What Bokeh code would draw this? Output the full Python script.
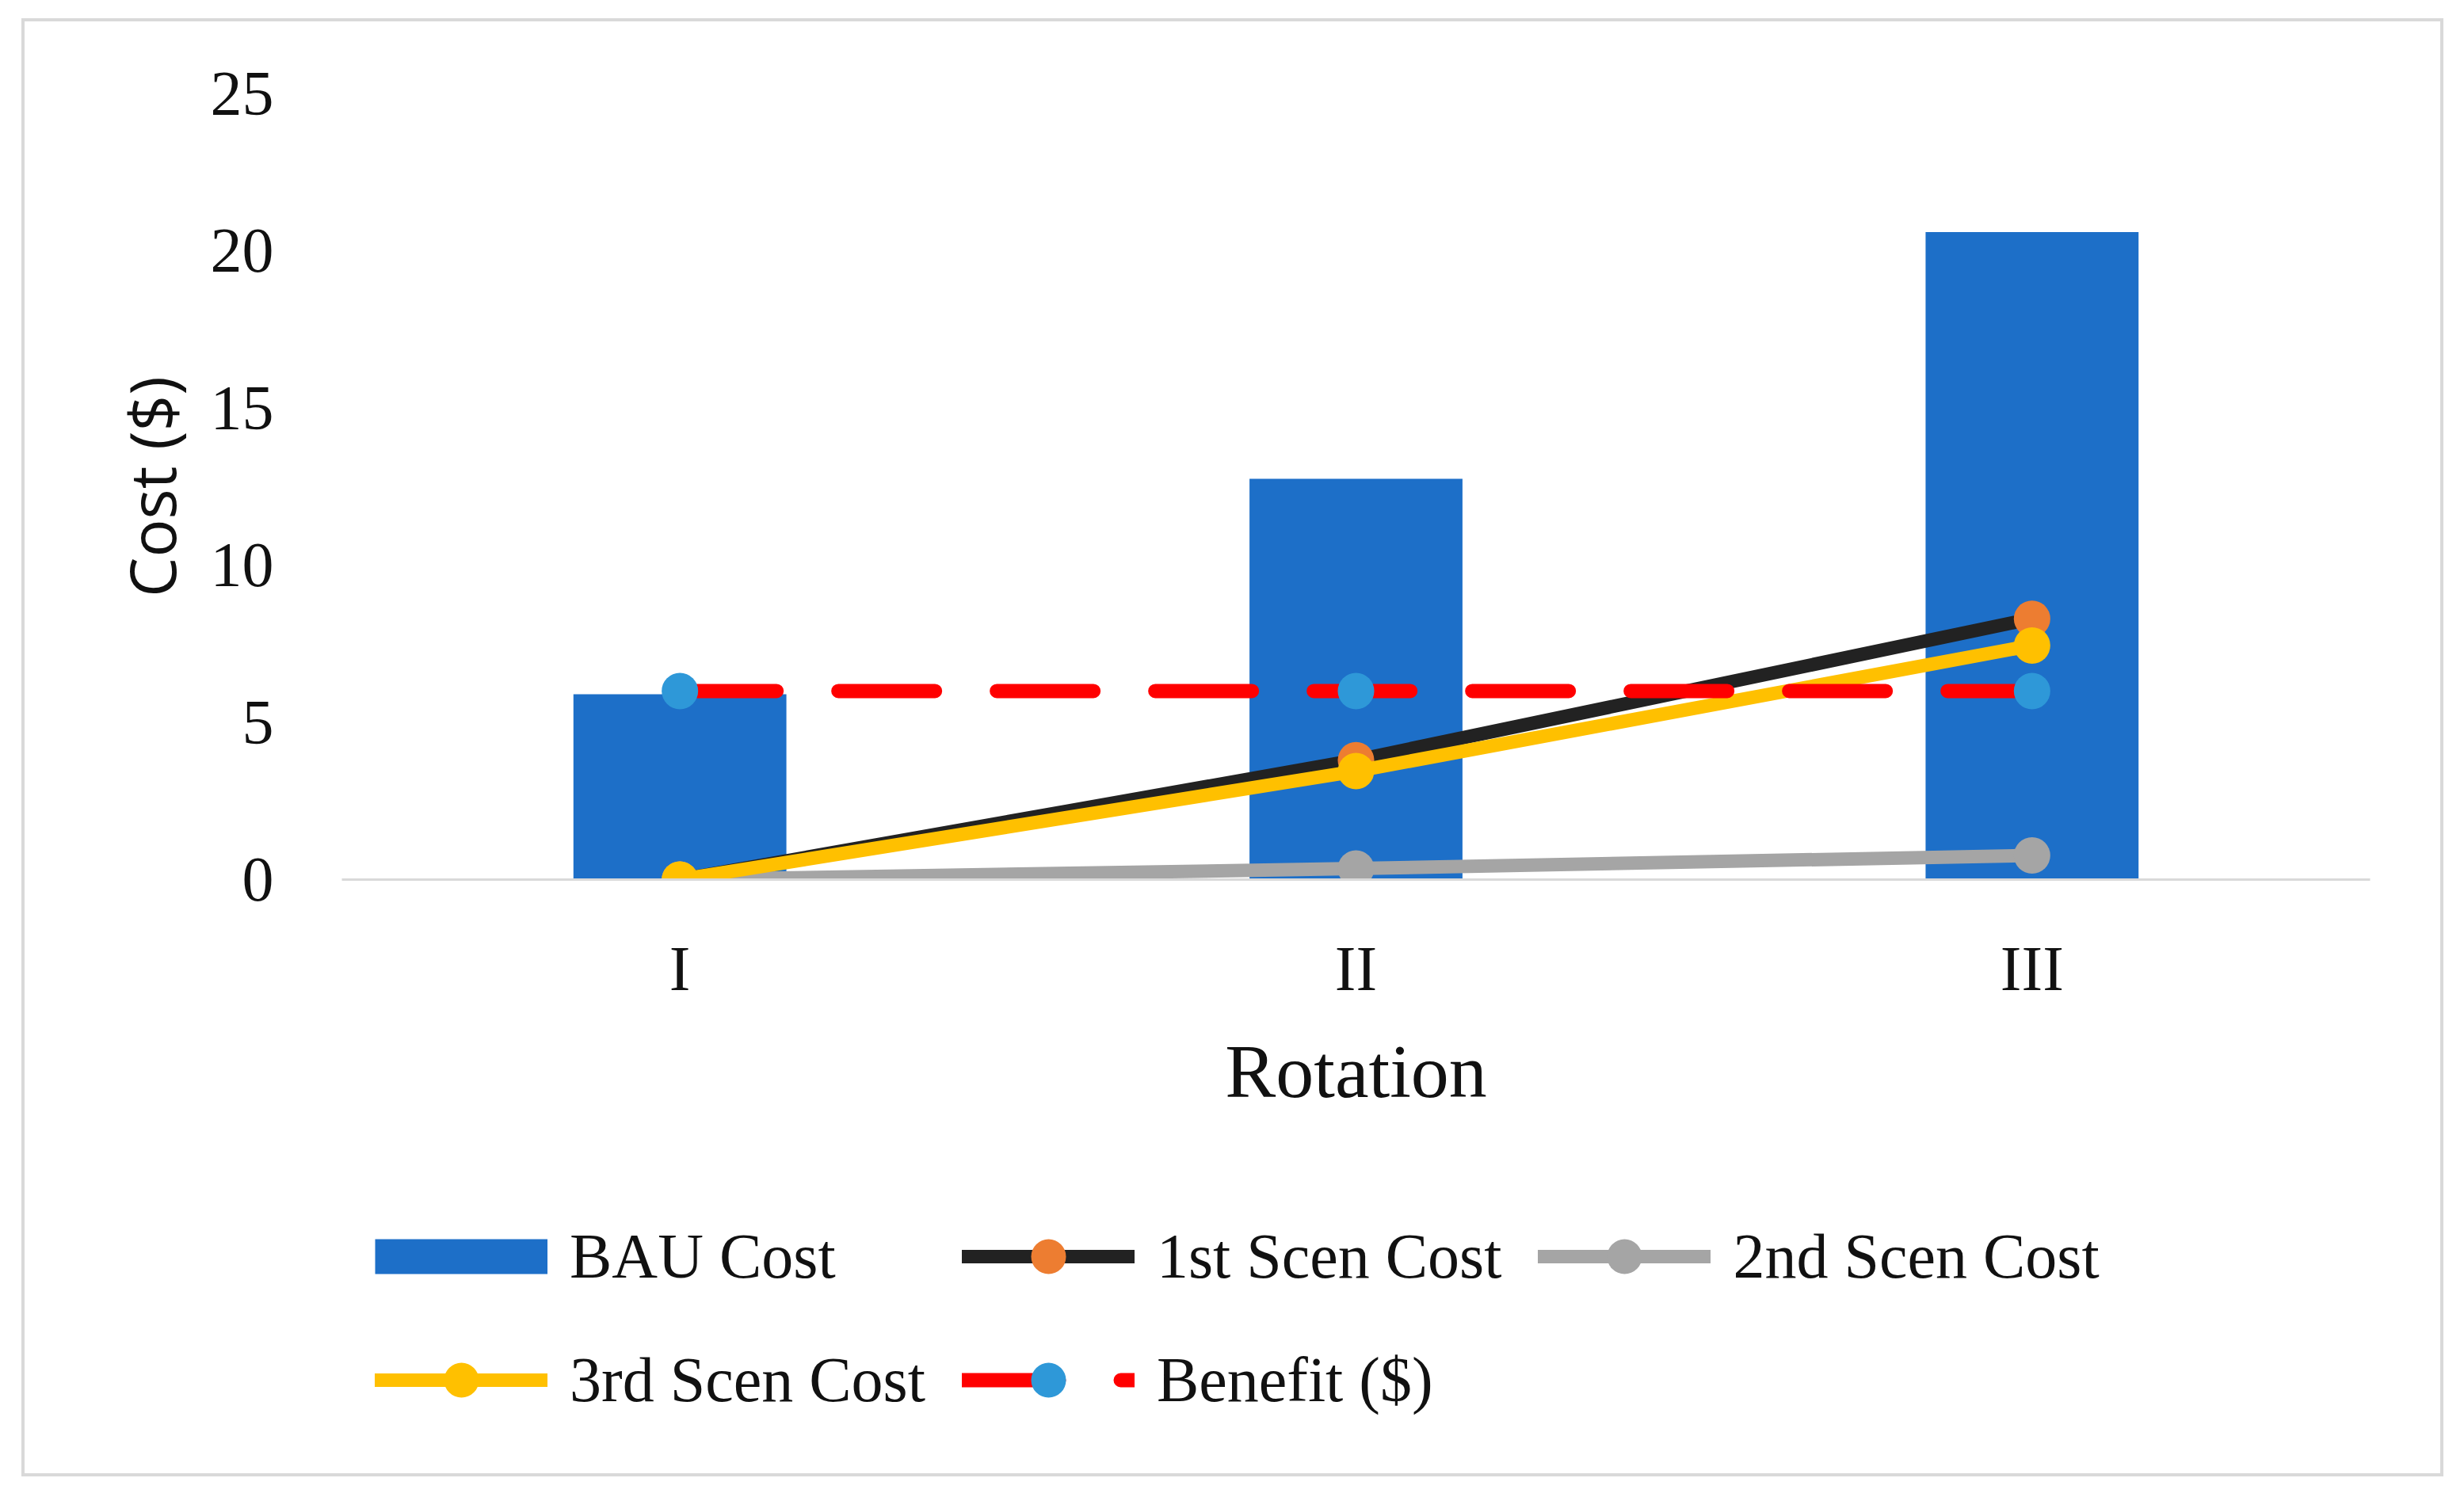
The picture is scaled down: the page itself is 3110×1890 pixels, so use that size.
from bokeh.plotting import figure
from bokeh.layouts import column
from bokeh.models import Legend, LegendItem, FixedTicker
from bokeh.embed import file_html
from bokeh.resources import INLINE

# data
rotations = ["I", "II", "III"]
bau_cost = [5.9, 12.75, 20.6]
scen1_cost = [0.0, 3.8, 8.3]
scen2_cost = [0.0, 0.35, 0.77]
scen3_cost = [0.0, 3.45, 7.45]
benefit = [6.0, 6.0, 6.0]
y_ticks = [0, 5, 10, 15, 20, 25]

series_names = ["BAU Cost", "1st Scen Cost", "2nd Scen Cost",
                "3rd Scen Cost", "Benefit ($)"]

serif = "Liberation Serif"
bar_color = "#1D6FC8"
line_colors = ["#222222", "#A5A5A5", "#FFC000", "#FF0000"]
marker_colors = ["#ED7D31", "#A5A5A5", "#FFC000", "#2E98D8"]
line_styles = ["solid", "solid", "solid", "122 78"]
line_widths = [17, 17, 17, 18]

nan = float("nan")


def add_series(fig, xs, ys_list):
    """Draw the four line series, return (line, marker) pairs."""
    pairs = []
    for ys, lc, mc, ls, lw in zip(ys_list, line_colors, marker_colors,
                                  line_styles, line_widths):
        ln = fig.line(xs, ys, line_color=lc, line_width=lw,
                      line_dash=ls, line_cap="round")
        mk = fig.scatter(xs, ys, size=46, fill_color=mc, line_color=None)
        pairs.append((ln, mk))
    return pairs


# main chart
p = figure(x_range=rotations,
           y_range=(0, 25),
           width=3049,
           height=1412,
           output_backend="svg",
           toolbar_location=None,
           min_border_left=400,
           min_border_right=89,
           min_border_top=91,
           min_border_bottom=329)
p.outline_line_color = None
p.xgrid.grid_line_color = None
p.ygrid.grid_line_color = None
p.x_range.range_padding = 0

p.vbar(x=rotations, top=bau_cost, width=0.315,
       fill_color=bar_color, line_color=None)
add_series(p, rotations, [scen1_cost, scen2_cost, scen3_cost, benefit])

p.xaxis.axis_line_color = "#D9D9D9"
p.xaxis.axis_line_width = 3
p.xaxis.major_tick_line_color = None
p.xaxis.minor_tick_line_color = None
p.xaxis.major_label_text_font = serif
p.xaxis.major_label_text_font_size = "80px"
p.xaxis.major_label_text_color = "#111111"
p.xaxis.major_label_standoff = 62
p.xaxis.axis_label = "Rotation"
p.xaxis.axis_label_text_font = serif
p.xaxis.axis_label_text_font_size = "96px"
p.xaxis.axis_label_text_font_style = "normal"
p.xaxis.axis_label_text_color = "#111111"
p.xaxis.axis_label_standoff = 29

p.yaxis.ticker = FixedTicker(ticks=y_ticks)
p.yaxis.axis_line_color = None
p.yaxis.major_tick_line_color = None
p.yaxis.minor_tick_line_color = None
p.yaxis.major_label_text_font = serif
p.yaxis.major_label_text_font_size = "80px"
p.yaxis.major_label_text_color = "#111111"
p.yaxis.major_label_standoff = 80
p.yaxis.axis_label = "Cost ($)"
p.yaxis.axis_label_text_font = "Open Sans"
p.yaxis.axis_label_text_font_size = "80px"
p.yaxis.axis_label_text_font_style = "normal"
p.yaxis.axis_label_text_color = "#111111"
p.yaxis.axis_label_standoff = 18

# legend strip under the chart; its keys use a single NaN point so only
# the legend shows them
leg = figure(x_range=(0, 1), y_range=(0, 1),
             width=3049, height=421,
             output_backend="svg",
             toolbar_location=None,
             min_border=0)
leg.axis.visible = False
leg.grid.visible = False
leg.outline_line_color = None

bar_key = leg.line(x=[nan], y=[nan], line_color=bar_color, line_width=44,
                   line_cap="butt")
keys = add_series(leg, [nan], [[nan], [nan], [nan], [nan]])

items = [LegendItem(label=series_names[0], renderers=[bar_key])]
for name, (ln, mk) in zip(series_names[1:], keys):
    items.append(LegendItem(label=name, renderers=[ln, mk]))

legend = Legend(items=items,
                location=(42, 63),
                orientation="horizontal",
                ncols=3,
                glyph_width=218,
                glyph_height=110,
                spacing=46,
                padding=0,
                margin=0,
                label_standoff=28,
                label_text_font=serif,
                label_text_font_size="80px",
                label_text_color="#111111",
                border_line_color=None,
                background_fill_alpha=0)
leg.add_layout(legend, "center")

page = column(p, leg, spacing=0)
page.margin = (16, 0, 0, 20)
page.styles = {"border": "4px solid #D9D9D9", "position": "relative",
               "left": "7px", "top": "7px"}

open("out.html", "w").write(file_html(page, INLINE))
